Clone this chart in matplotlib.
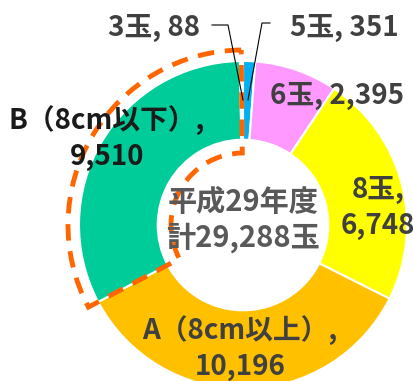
import matplotlib.pyplot as plt
from matplotlib.patches import Wedge
import numpy as np

plt.rcParams['font.family'] = ['Noto Sans CJK JP', 'DejaVu Sans']

# data (clockwise from 12 o'clock)
names = ['5玉', '6玉', '8玉', 'A（8cm以上）', 'B（8cm以下）', '3玉']
values = [351, 2395, 6748, 10196, 9510, 88]
colors = ['#00B0F0', '#FF99FF', '#FFFF00', '#FFC000', '#00CC99', '#FFFFFF']
center_text = '平成29年度\n計29,288玉'

W, H = 414, 381
fig = plt.figure(figsize=(W / 100, H / 100), dpi=100)
ax = fig.add_axes([0, 0, 1, 1])

cx, cy = 243, H - 225
R = 164
ax.pie(values, colors=colors, startangle=90, counterclock=False,
       center=(cx, cy), radius=R,
       wedgeprops=dict(width=R * 0.48, edgecolor='white', linewidth=1.5))

ax.set_xlim(0, W)
ax.set_ylim(0, H)
ax.set_aspect('equal')
ax.axis('off')

# dashed outline around the B slice
total = sum(values)
cum = np.cumsum([0] + values)
b = names.index('B（8cm以下）')
t1 = 90 - cum[b + 1] / total * 360
t2 = 90 - cum[b] / total * 360
ax.add_patch(Wedge((cx, cy), 175, t1 + 360 - 0.5, t2 + 360, width=175 - 72,
                   fill=False, edgecolor='#FF6600', linewidth=3.5,
                   linestyle=(0, (3.4, 2.2))))

def py(y):
    return H - y

txt = '#404040'
fs = 20
ax.text(200, py(28), f'{names[5]}, {values[5]}', ha='right', va='center',
        fontsize=fs, fontweight='bold', color=txt)
ax.plot([212, 228, 243], [py(25), py(25), py(100)], color='black', lw=0.8)
ax.text(290, py(28), f'{names[0]}, {values[0]}', ha='left', va='center',
        fontsize=fs, fontweight='bold', color=txt)
ax.plot([270, 262, 248], [py(23), py(23), py(100)], color='black', lw=0.8)
ax.text(337, py(96), f'{names[1]}, {values[1]:,}', ha='center', va='center',
        fontsize=fs, fontweight='bold', color=txt)
ax.text(378, py(208), f'{names[2]},\n{values[2]:,}', ha='center', va='center',
        fontsize=fs, fontweight='bold', color=txt, linespacing=1.4)
ax.text(240, py(348), f'{names[3]},\n{values[3]:,}', ha='center', va='center',
        fontsize=fs, fontweight='bold', color=txt, linespacing=1.4)
ax.text(107, py(138), f'{names[4]},\n{values[4]:,}', ha='center', va='center',
        fontsize=fs, fontweight='bold', color='#1a1a1a', linespacing=1.4)
ax.text(cx, py(220), center_text, ha='center', va='center',
        fontsize=21, fontweight='bold', color='#595959', linespacing=1.25)

fig.savefig('out.png', dpi=100)
